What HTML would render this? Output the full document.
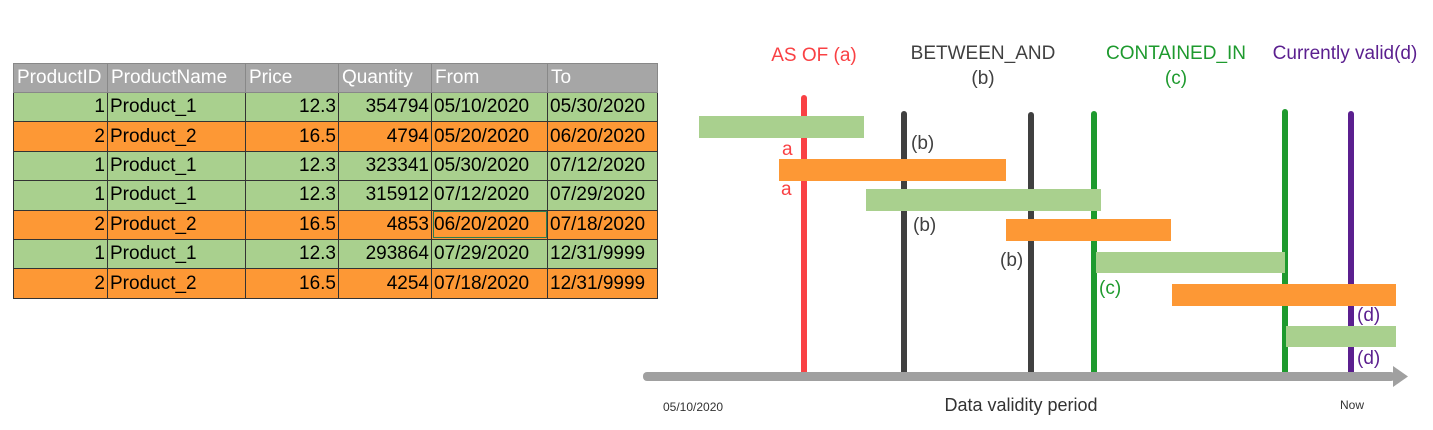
<!DOCTYPE html>
<html><head><meta charset="utf-8"><style>
body{margin:0;background:#fff;width:1433px;height:430px;overflow:hidden;position:relative;font-family:"Liberation Sans",sans-serif}
table{position:absolute;left:13px;top:63px;border-collapse:collapse;font-family:"Liberation Sans",sans-serif;font-size:19px;table-layout:fixed;width:644px}
td{border:1px solid #333;height:29.4px;padding:0 2px;white-space:nowrap;box-sizing:border-box;overflow:hidden}
th{background:#a6a6a6;color:#fff;font-weight:normal;text-align:left;height:29px;padding:0 3px;border:1px solid #888;box-sizing:border-box;overflow:hidden;white-space:nowrap}
.g td{background:#a9d08e}.o td{background:#fd9835}
.r{text-align:right}
</style></head><body>
<table>
<colgroup><col style="width:94px"><col style="width:138px"><col style="width:93px"><col style="width:93px"><col style="width:116px"><col style="width:110px"></colgroup>
<tr><th>ProductID</th><th>ProductName</th><th>Price</th><th>Quantity</th><th>From</th><th>To</th></tr>
<tr class="g"><td class="r">1</td><td>Product_1</td><td class="r">12.3</td><td class="r">354794</td><td>05/10/2020</td><td>05/30/2020</td></tr>
<tr class="o"><td class="r">2</td><td>Product_2</td><td class="r">16.5</td><td class="r">4794</td><td>05/20/2020</td><td>06/20/2020</td></tr>
<tr class="g"><td class="r">1</td><td>Product_1</td><td class="r">12.3</td><td class="r">323341</td><td>05/30/2020</td><td>07/12/2020</td></tr>
<tr class="g"><td class="r">1</td><td>Product_1</td><td class="r">12.3</td><td class="r">315912</td><td>07/12/2020</td><td>07/29/2020</td></tr>
<tr class="o"><td class="r">2</td><td>Product_2</td><td class="r">16.5</td><td class="r">4853</td><td style="outline:1px solid #2e7d4f;outline-offset:-2px">06/20/2020</td><td>07/18/2020</td></tr>
<tr class="g"><td class="r">1</td><td>Product_1</td><td class="r">12.3</td><td class="r">293864</td><td>07/29/2020</td><td>12/31/9999</td></tr>
<tr class="o"><td class="r">2</td><td>Product_2</td><td class="r">16.5</td><td class="r">4254</td><td>07/18/2020</td><td>12/31/9999</td></tr>
</table>
<svg width="1433" height="430" style="position:absolute;left:0;top:0" font-family="Liberation Sans, sans-serif">
<g stroke-linecap="round" stroke-width="6">
<line x1="804" y1="98" x2="804" y2="372" stroke="#f94144"/>
<line x1="904" y1="114" x2="904" y2="372" stroke="#404040"/>
<line x1="1031" y1="115" x2="1031" y2="372" stroke="#404040"/>
<line x1="1094" y1="114" x2="1094" y2="372" stroke="#1e9a2e"/>
<line x1="1285" y1="112" x2="1285" y2="372" stroke="#1e9a2e"/>
<line x1="1351" y1="114" x2="1351" y2="372" stroke="#5b1f8f"/>
</g>
<rect x="643" y="372" width="752" height="9" rx="4" fill="#a0a0a0"/>
<polygon points="1393,366 1408,376.5 1393,387" fill="#a0a0a0"/>
<g>
<rect x="699" y="116" width="165" height="22" fill="#a9d08e"/>
<rect x="779" y="159" width="227" height="22" fill="#fd9835"/>
<rect x="866" y="189" width="235" height="22" fill="#a9d08e"/>
<rect x="1006" y="219" width="165" height="22" fill="#fd9835"/>
<rect x="1096" y="252" width="189" height="21" fill="#a9d08e"/>
<rect x="1172" y="284" width="224" height="22" fill="#fd9835"/>
<rect x="1286" y="326" width="110" height="21" fill="#a9d08e"/>
</g>
<g font-size="19" text-anchor="middle">
<text x="814" y="61" fill="#f94144">AS OF (a)</text>
<text x="983" y="59" fill="#404040">BETWEEN_AND</text>
<text x="983" y="84" fill="#404040">(b)</text>
<text x="1176" y="59" fill="#1e9a2e">CONTAINED_IN</text>
<text x="1176" y="84" fill="#1e9a2e">(c)</text>
<text x="1345" y="59" fill="#5b1f8f">Currently valid(d)</text>
</g>
<g font-size="19">
<text x="782" y="155" fill="#f94144">a</text>
<text x="781" y="195" fill="#f94144">a</text>
<text x="911" y="149" fill="#404040">(b)</text>
<text x="913" y="231" fill="#404040">(b)</text>
<text x="1000" y="266" fill="#404040">(b)</text>
<text x="1099" y="294" fill="#1e9a2e">(c)</text>
<text x="1357" y="321" fill="#5b1f8f">(d)</text>
<text x="1357" y="364" fill="#5b1f8f">(d)</text>
</g>
<text x="663" y="411" font-size="12" fill="#333">05/10/2020</text>
<text x="1021" y="411" font-size="18" fill="#333" text-anchor="middle">Data validity period</text>
<text x="1352" y="409" font-size="12" fill="#333" text-anchor="middle">Now</text>
</svg>
</body></html>
